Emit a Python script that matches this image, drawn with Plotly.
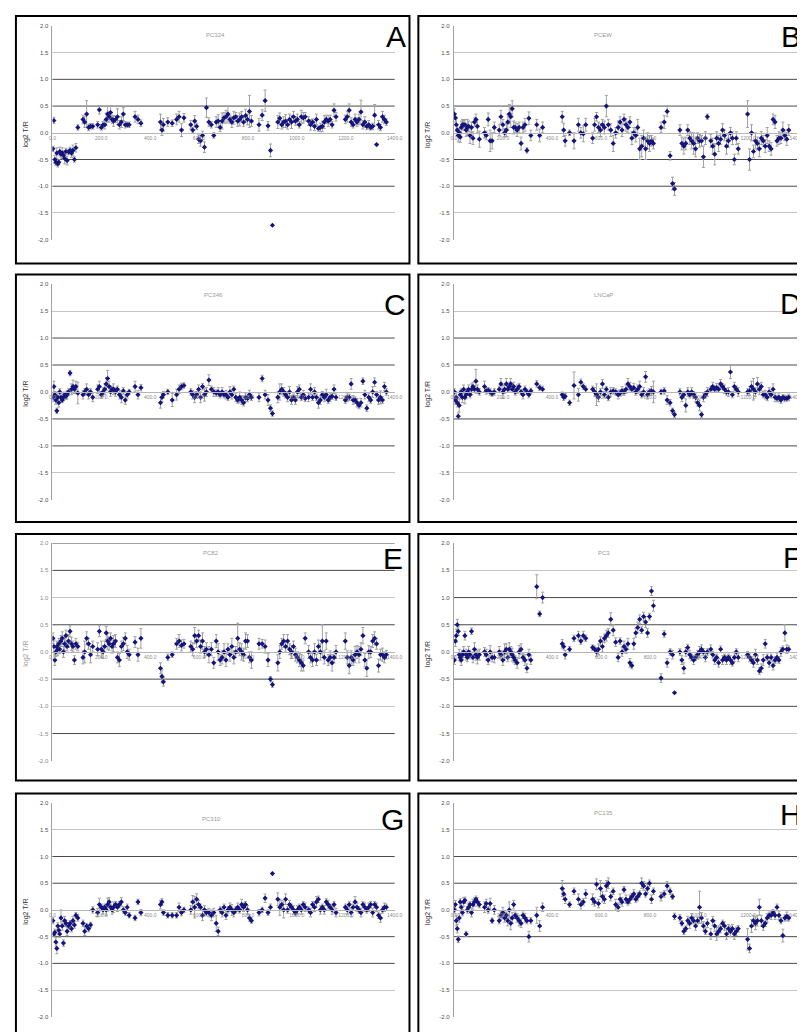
import plotly.graph_objects as go

W, H = 805, 1032

# ---------------- data ----------------
positions = [2, 6, 10, 14, 18, 22, 26, 30, 35, 40, 45, 50, 55, 60, 66, 72, 78, 84, 90, 96,
             104, 125, 132, 140, 148, 156, 165,
             185, 192, 200, 207, 214, 220, 226, 232, 238, 244, 250, 258, 266, 274, 282, 290, 298, 306, 314,
             338, 350, 362,
             442, 448, 454,
             472, 490,
             508, 518, 528, 538,
             566, 574, 582, 590, 598, 606, 614, 622, 630, 640, 650, 660,
             670, 678, 686, 694, 702, 710, 718, 726, 734, 742, 750, 758, 766, 774, 782, 790, 798, 806, 814,
             845, 858, 870, 882, 892, 900,
             922, 930, 938, 946, 954, 962, 970, 978, 986, 994, 1002, 1010, 1018, 1026, 1034,
             1048, 1056, 1064, 1072, 1080, 1088, 1096, 1104, 1112, 1120, 1128, 1136, 1144, 1152, 1160,
             1198, 1206, 1214, 1222, 1230, 1238, 1246, 1254, 1262, 1270, 1278, 1286, 1294, 1302, 1310,
             1318, 1326, 1334, 1342, 1350, 1358, 1366]

panel_letters = ["A", "B", "C", "D", "E", "F", "G", "H"]
panel_titles = ["PC324", "PCEW", "PC346", "LNCaP", "PC82", "PC3", "PC310", "PC135"]

y_pc324 = [-0.3, 0.23, -0.5, -0.55, -0.38, -0.58, -0.55, -0.35, -0.4, -0.38, -0.42, -0.48, -0.35, -0.52, -0.36, -0.33, -0.38, -0.33, -0.5, -0.28,
           0.1, 0.25, 0.2, 0.35, 0.1, 0.12, 0.12,
           0.15, 0.43, 0.1, 0.15, 0.15, 0.25, 0.35, 0.3, 0.38, 0.25, 0.22, 0.25, 0.3, 0.15, 0.2, 0.35, 0.15, 0.15, 0.15,
           0.3, 0.25, 0.18,
           0.2, 0.05, 0.15,
           0.2, 0.18,
           0.25, 0.3, 0.05, 0.28,
           0.15, 0.05, 0.22, 0.12, -0.12, -0.15, -0.05, -0.27, 0.47, 0.2, 0.15, -0.05,
           0.2, 0.22, 0.1, 0.22, 0.28, 0.3, 0.35, 0.25, 0.2, 0.28, 0.3, 0.22, 0.25, 0.3, 0.2, 0.32, 0.25, 0.4, 0.22,
           0.15, 0.33, 0.6, 0.13, -0.33, -1.73,
           0.2, 0.27, 0.15, 0.2, 0.22, 0.15, 0.25, 0.2, 0.3, 0.22, 0.25, 0.15, 0.3, 0.28, 0.3,
           0.22, 0.15, 0.2, 0.12, 0.25, 0.08, 0.1, 0.12, 0.2, 0.25, 0.22, 0.25, 0.15, 0.42, 0.3,
           0.25, 0.3, 0.42, 0.2, 0.15, 0.25, 0.2, 0.25, 0.39, 0.15, 0.2, 0.12, 0.15, 0.1, 0.12, 0.33, -0.22, 0.15, 0.1, 0.3, 0.25, 0.2]
e_pc324 = [0.05, 0.06, 0.08, 0.06, 0.1, 0.06, 0.05, 0.08, 0.06, 0.1, 0.08, 0.1, 0.06, 0.08, 0.05, 0.06, 0.08, 0.1, 0.05, 0.08,
           0.05, 0.08, 0.1, 0.25, 0.06, 0.05, 0.05,
           0.06, 0.08, 0.05, 0.06, 0.08, 0.12, 0.15, 0.1, 0.12, 0.08, 0.1, 0.06, 0.15, 0.08, 0.1, 0.12, 0.06, 0.05, 0.05,
           0.1, 0.08, 0.06,
           0.15, 0.1, 0.12,
           0.08, 0.06,
           0.1, 0.1, 0.12, 0.08,
           0.08, 0.05, 0.1, 0.06, 0.08, 0.1, 0.08, 0.1, 0.18, 0.08, 0.06, 0.05,
           0.1, 0.12, 0.08, 0.15, 0.1, 0.12, 0.15, 0.08, 0.1, 0.12, 0.08, 0.1, 0.12, 0.1, 0.08, 0.12, 0.1, 0.3, 0.1,
           0.12, 0.1, 0.2, 0.08, 0.12, 0.0,
           0.12, 0.1, 0.08, 0.1, 0.12, 0.08, 0.1, 0.12, 0.1, 0.08, 0.1, 0.06, 0.12, 0.1, 0.08,
           0.08, 0.1, 0.06, 0.08, 0.1, 0.05, 0.08, 0.1, 0.12, 0.08, 0.1, 0.08, 0.06, 0.12, 0.08,
           0.08, 0.1, 0.12, 0.08, 0.06, 0.1, 0.08, 0.1, 0.22, 0.08, 0.1, 0.06, 0.08, 0.05, 0.06, 0.2, 0.0, 0.08, 0.06, 0.1, 0.08, 0.06]

y_pcew = [0.35, 0.28, 0.15, 0.05, -0.05, 0.0, -0.08, 0.1, 0.15, 0.15, 0.15, 0.05, 0.1, 0.12, -0.05, 0.1, -0.1, 0.2, 0.25, 0.12,
          -0.12, 0.0, -0.05, 0.25, -0.15, -0.15, 0.1,
          0.05, 0.3, 0.15, 0.0, 0.05, 0.2, 0.35, 0.3, 0.45, 0.1, 0.1, 0.05, 0.1, -0.2, 0.1, 0.15, -0.33, 0.27, -0.05,
          0.15, -0.05, 0.1,
          0.3, 0.05, -0.15,
          0.0, -0.15,
          0.15, 0.0, -0.02, 0.15,
          -0.1, 0.15, 0.3, 0.1, 0.05, 0.15, 0.1, 0.5, 0.15, 0.05, -0.2, 0.0,
          0.1, 0.2, 0.05, 0.25, 0.15, 0.1, 0.2, -0.1, 0.0, -0.05, 0.1, -0.3, -0.25, -0.1, -0.3, -0.15, -0.2, -0.15, -0.2,
          0.1, 0.2, 0.4, -0.43, -0.95, -1.05,
          0.05, -0.2, -0.25, -0.2, 0.05, -0.1, -0.15, -0.2, -0.3, -0.1, -0.15, -0.15, -0.45, -0.1, 0.3,
          -0.15, -0.25, -0.4, -0.1, -0.2, -0.12, 0.05, -0.05, -0.25, -0.15, 0.0, -0.1, -0.5, -0.1, -0.3,
          0.35, -0.5, 0.0, -0.35, -0.15, -0.2, -0.3, -0.1, -0.15, -0.25, -0.05, -0.25, -0.3, 0.25, 0.2, -0.15, -0.1, -0.1, 0.05, -0.05, -0.12, 0.05]
e_pcew = [0.1, 0.08, 0.12, 0.1, 0.12, 0.08, 0.1, 0.12, 0.1, 0.08, 0.1, 0.12, 0.15, 0.1, 0.15, 0.1, 0.12, 0.08, 0.1, 0.12,
          0.15, 0.1, 0.08, 0.12, 0.2, 0.15, 0.1,
          0.1, 0.12, 0.1, 0.08, 0.12, 0.15, 0.18, 0.2, 0.15, 0.12, 0.1, 0.12, 0.1, 0.12, 0.1, 0.12, 0.05, 0.12, 0.1,
          0.1, 0.12, 0.1,
          0.1, 0.12, 0.1,
          0.05, 0.15,
          0.12, 0.1, 0.15, 0.12,
          0.1, 0.12, 0.08, 0.1, 0.12, 0.1, 0.12, 0.2, 0.1, 0.12, 0.15, 0.1,
          0.12, 0.1, 0.12, 0.1, 0.12, 0.1, 0.1, 0.12, 0.1, 0.12, 0.15, 0.2, 0.2, 0.15, 0.2, 0.15, 0.15, 0.1, 0.1,
          0.1, 0.12, 0.1, 0.08, 0.12, 0.12,
          0.1, 0.12, 0.15, 0.12, 0.1, 0.12, 0.15, 0.2, 0.15, 0.1, 0.12, 0.1, 0.2, 0.12, 0.05,
          0.12, 0.15, 0.2, 0.12, 0.15, 0.1, 0.12, 0.1, 0.15, 0.12, 0.1, 0.12, 0.1, 0.12, 0.1,
          0.25, 0.2, 0.15, 0.12, 0.15, 0.12, 0.15, 0.12, 0.1, 0.12, 0.15, 0.1, 0.12, 0.1, 0.12, 0.1, 0.12, 0.1, 0.15, 0.1, 0.12, 0.1]

y_pc346 = [-0.1, 0.1, -0.05, -0.15, -0.35, -0.1, -0.2, 0.0, -0.1, -0.15, -0.1, -0.05, -0.08, -0.05, 0.0, 0.35, 0.05, 0.1, 0.05, 0.1,
           -0.02, -0.05, 0.0, 0.05, -0.05, 0.0, -0.1,
           0.05, 0.1, -0.05, 0.0, 0.05, 0.15, 0.25, 0.1, 0.0, 0.05, 0.05, 0.0, 0.05, -0.05, -0.1, 0.02, -0.15, -0.05, 0.0,
           0.1, -0.05, 0.08,
           -0.2, -0.1, -0.05,
           0.0, -0.15,
           -0.05, 0.05, 0.1, 0.12,
           0.0, -0.05, -0.1, -0.05, 0.05, -0.1, 0.1, -0.05, 0.0, 0.22, 0.05, 0.0,
           -0.02, 0.0, -0.05, 0.0, -0.05, -0.05, -0.1, 0.0, -0.05, 0.05, -0.1, -0.15, -0.1, -0.15, -0.2, -0.1, -0.12, -0.05, -0.1,
           -0.1, 0.25, -0.05, -0.15, -0.3, -0.4,
           -0.1, 0.0, 0.05, 0.0, -0.05, -0.1, 0.0, -0.15, -0.1, -0.15, 0.0, 0.05, -0.1, -0.05, -0.12,
           -0.1, 0.05, -0.1, 0.0, -0.1, -0.2, -0.15, -0.05, -0.1, -0.05, -0.15, -0.1, -0.08, 0.05, -0.1,
           -0.15, -0.1, -0.1, 0.15, -0.15, -0.15, -0.2, -0.25, -0.2, 0.2, -0.05, -0.3, -0.1, -0.15, 0.0, 0.18, -0.05, -0.15, -0.1, -0.15, 0.1, 0.0]
e_pc346 = [0.08, 0.1, 0.06, 0.08, 0.05, 0.1, 0.08, 0.06, 0.08, 0.05, 0.06, 0.05, 0.06, 0.08, 0.06, 0.05, 0.1, 0.12, 0.08, 0.1,
           0.2, 0.08, 0.06, 0.1, 0.08, 0.06, 0.08,
           0.08, 0.1, 0.06, 0.08, 0.1, 0.12, 0.15, 0.1, 0.08, 0.06, 0.1, 0.08, 0.06, 0.08, 0.1, 0.06, 0.08, 0.06, 0.05,
           0.1, 0.08, 0.06,
           0.1, 0.08, 0.06,
           0.05, 0.12,
           0.1, 0.08, 0.06, 0.05,
           0.06, 0.08, 0.1, 0.06, 0.08, 0.1, 0.06, 0.12, 0.08, 0.1, 0.06, 0.08,
           0.06, 0.08, 0.06, 0.08, 0.06, 0.08, 0.06, 0.1, 0.08, 0.06, 0.08, 0.06, 0.1, 0.08, 0.06, 0.08, 0.06, 0.08, 0.06,
           0.08, 0.06, 0.08, 0.1, 0.06, 0.05,
           0.1, 0.15, 0.1, 0.08, 0.06, 0.08, 0.1, 0.08, 0.06, 0.08, 0.1, 0.08, 0.06, 0.08, 0.06,
           0.08, 0.1, 0.06, 0.08, 0.06, 0.1, 0.08, 0.06, 0.08, 0.1, 0.06, 0.08, 0.06, 0.08, 0.06,
           0.06, 0.08, 0.06, 0.1, 0.08, 0.06, 0.08, 0.06, 0.08, 0.06, 0.08, 0.06, 0.08, 0.06, 0.1, 0.08, 0.06, 0.08, 0.12, 0.06, 0.08, 0.06]

y_lncap = [0.0, -0.15, -0.1, -0.2, -0.45, -0.25, -0.05, 0.0, -0.1, 0.05, -0.1, -0.05, 0.0, 0.05, -0.05, 0.05, 0.1, 0.05, 0.2, 0.05,
           0.0, 0.1, 0.02, 0.03, 0.0, -0.03, 0.0,
           0.05, 0.15, 0.0, 0.05, 0.15, 0.05, 0.1, 0.15, 0.05, 0.1, 0.0, 0.05, 0.1, 0.0, -0.05, 0.05, 0.0, -0.05, 0.02,
           0.15, 0.08, 0.05,
           -0.05, -0.1, -0.08,
           -0.2, 0.12,
           -0.05, 0.18, 0.1, 0.05,
           0.05, 0.0, -0.05, -0.1, 0.0, 0.15, -0.05, 0.05, -0.1, 0.0, 0.02, 0.0,
           -0.05, -0.02, 0.02, 0.0, 0.05, 0.15, 0.1, 0.05, 0.08, 0.0, 0.05, 0.1, -0.05, 0.0, 0.28, -0.05, 0.0, 0.02, 0.0,
           0.0, 0.02, -0.15, -0.2, -0.35, -0.42,
           0.0, -0.1, -0.05, -0.25, 0.0, -0.05, 0.0, -0.05, -0.1, -0.2, -0.25, -0.42, -0.1, -0.05, 0.0,
           0.05, 0.1, 0.05, 0.08, 0.05, 0.15, 0.1, 0.05, 0.0, 0.0, 0.37, -0.05, 0.1, 0.05, 0.0,
           0.0, 0.02, 0.1, 0.05, 0.0, 0.15, 0.05, 0.1, -0.05, -0.05, -0.1, 0.0, -0.05, 0.05, -0.1, -0.12, -0.1, -0.15, -0.1, -0.12, -0.12, -0.1]
e_lncap = [0.06, 0.08, 0.1, 0.08, 0.06, 0.12, 0.08, 0.06, 0.1, 0.08, 0.12, 0.08, 0.06, 0.08, 0.06, 0.1, 0.08, 0.06, 0.22, 0.08,
           0.06, 0.1, 0.06, 0.05, 0.06, 0.05, 0.06,
           0.06, 0.1, 0.12, 0.08, 0.1, 0.06, 0.08, 0.1, 0.06, 0.08, 0.06, 0.08, 0.06, 0.05, 0.08, 0.06, 0.05, 0.06, 0.05,
           0.06, 0.05, 0.06,
           0.05, 0.06, 0.05,
           0.05, 0.25,
           0.12, 0.06, 0.05, 0.06,
           0.06, 0.08, 0.2, 0.08, 0.06, 0.08, 0.06, 0.05, 0.06, 0.08, 0.06, 0.06,
           0.08, 0.06, 0.08, 0.06, 0.08, 0.1, 0.08, 0.06, 0.08, 0.06, 0.08, 0.1, 0.06, 0.08, 0.1, 0.08, 0.06, 0.08, 0.2,
           0.05, 0.06, 0.08, 0.06, 0.05, 0.05,
           0.06, 0.08, 0.06, 0.12, 0.08, 0.06, 0.08, 0.06, 0.08, 0.06, 0.1, 0.05, 0.08, 0.06, 0.08,
           0.06, 0.08, 0.06, 0.08, 0.06, 0.08, 0.06, 0.08, 0.06, 0.08, 0.12, 0.06, 0.08, 0.06, 0.08,
           0.06, 0.08, 0.1, 0.2, 0.08, 0.12, 0.1, 0.08, 0.06, 0.08, 0.06, 0.08, 0.06, 0.1, 0.08, 0.06, 0.08, 0.06, 0.05, 0.06, 0.05, 0.06]

y_pc82 = [0.25, 0.1, -0.15, 0.0, 0.1, 0.05, 0.15, 0.05, 0.2, 0.25, 0.0, 0.15, 0.3, 0.1, 0.2, 0.38, 0.15, 0.1, -0.15, 0.15,
          0.1, -0.1, 0.0, 0.25, 0.15, -0.05, 0.1,
          0.05, 0.38, 0.05, 0.0, 0.1, 0.35, 0.2, 0.15, 0.25, 0.1, 0.15, 0.2, -0.1, -0.15, 0.1, 0.15, 0.25, 0.0, -0.05,
          0.18, -0.05, 0.25,
          -0.3, -0.45, -0.55,
          -0.1, -0.05,
          0.15, 0.2, 0.12, 0.15,
          0.1, 0.05, 0.3, 0.2, 0.3, 0.1, 0.2, 0.0, 0.05, -0.05, 0.05, -0.2,
          0.2, 0.0, -0.15, -0.1, 0.0, -0.15, 0.05, -0.05, 0.1, -0.1, 0.0, 0.25, 0.05, 0.0, -0.05, 0.2, 0.2, -0.1, -0.15,
          0.15, 0.15, 0.1, -0.15, -0.5, -0.6,
          -0.2, 0.0, 0.15, 0.2, 0.1, 0.2, 0.05, 0.0, 0.1, -0.05, -0.1, -0.15, -0.2, -0.25, 0.25,
          0.0, -0.1, -0.15, 0.0, -0.15, 0.1, 0.0, 0.2, -0.1, 0.2, -0.15, -0.1, -0.2, -0.1, 0.0,
          0.2, -0.1, -0.25, -0.1, -0.15, -0.05, 0.0, -0.05, 0.05, 0.3, -0.15, -0.3, 0.0, 0.0, 0.2, 0.25, 0.15, -0.25, -0.05, -0.05, -0.1, -0.05]
e_pc82 = [0.1, 0.12, 0.1, 0.08, 0.1, 0.12, 0.1, 0.08, 0.1, 0.12, 0.1, 0.12, 0.1, 0.08, 0.12, 0.1, 0.12, 0.1, 0.08, 0.1,
          0.08, 0.12, 0.2, 0.12, 0.1, 0.15, 0.1,
          0.12, 0.1, 0.15, 0.12, 0.1, 0.12, 0.15, 0.12, 0.1, 0.12, 0.15, 0.12, 0.1, 0.12, 0.1, 0.12, 0.1, 0.12, 0.1,
          0.1, 0.12, 0.18,
          0.1, 0.12, 0.08,
          0.06, 0.05,
          0.1, 0.12, 0.1, 0.08,
          0.1, 0.12, 0.15, 0.12, 0.1, 0.12, 0.15, 0.1, 0.12, 0.15, 0.12, 0.1,
          0.12, 0.15, 0.1, 0.12, 0.15, 0.12, 0.1, 0.12, 0.15, 0.12, 0.1, 0.28, 0.12, 0.15, 0.12, 0.15, 0.12, 0.1, 0.15,
          0.1, 0.08, 0.12, 0.12, 0.05, 0.05,
          0.15, 0.12, 0.1, 0.12, 0.1, 0.12, 0.1, 0.12, 0.1, 0.12, 0.1, 0.12, 0.15, 0.1, 0.1,
          0.12, 0.1, 0.12, 0.15, 0.1, 0.12, 0.15, 0.3, 0.12, 0.15, 0.1, 0.12, 0.15, 0.1, 0.12,
          0.15, 0.12, 0.15, 0.12, 0.1, 0.15, 0.12, 0.15, 0.12, 0.15, 0.12, 0.15, 0.12, 0.1, 0.12, 0.12, 0.1, 0.12, 0.1, 0.12, 0.1, 0.08]

y_pc3 = [-0.15, 0.2, 0.3, 0.5, 0.38, -0.05, -0.1, -0.15, -0.05, 0.0, 0.3, -0.05, -0.1, 0.0, -0.05, 0.38, -0.1, 0.05, -0.05, -0.1,
         -0.05, 0.0, -0.05, -0.15, 0.0, -0.1, -0.1,
         0.0, -0.05, -0.15, 0.0, 0.05, -0.1, 0.05, 0.0, -0.05, -0.1, -0.15, -0.2, 0.0, 0.05, -0.1, -0.15, -0.3, -0.05, -0.15,
         1.2, 0.7, 1.0,
         0.15, 0.1, -0.05,
         0.05, 0.25,
         0.3, 0.2, 0.3, 0.25,
         0.08, 0.05, 0.0, 0.05, 0.2, 0.1, 0.25, 0.3, 0.35, 0.6, 0.4, 0.18,
         -0.1, 0.2, 0.0, 0.1, 0.05, 0.15, -0.2, -0.25, 0.15, 0.35, 0.45, 0.6, 0.4, 0.65, 0.55, 0.35, 0.65, 1.12, 0.85,
         -0.48, 0.33, -0.2, 0.0, -0.05, -0.75,
         0.0, -0.15, -0.3, 0.0, 0.08, -0.05, -0.1, -0.15, -0.1, -0.05, 0.0, 0.05, 0.0, -0.1, 0.0,
         0.05, -0.05, -0.15, -0.1, -0.2, 0.05, -0.15, -0.1, -0.15, -0.1, -0.15, -0.2, -0.1, 0.0, -0.1,
         -0.05, -0.1, -0.15, -0.2, -0.05, -0.15, -0.35, -0.3, -0.15, 0.15, -0.1, -0.2, -0.1, -0.25, -0.15, -0.1, -0.15, 0.0, 0.05, 0.35, 0.05, 0.05]
e_pc3 = [0.08, 0.1, 0.12, 0.1, 0.08, 0.1, 0.08, 0.1, 0.08, 0.1, 0.08, 0.1, 0.08, 0.1, 0.08, 0.06, 0.1, 0.12, 0.1, 0.12,
         0.1, 0.08, 0.1, 0.08, 0.12, 0.08, 0.1,
         0.1, 0.08, 0.1, 0.15, 0.1, 0.08, 0.12, 0.1, 0.12, 0.1, 0.08, 0.1, 0.12, 0.1, 0.08, 0.1, 0.08, 0.1, 0.08,
         0.22, 0.05, 0.1,
         0.08, 0.06, 0.08,
         0.05, 0.06,
         0.08, 0.06, 0.08, 0.06,
         0.05, 0.06, 0.08, 0.1, 0.08, 0.1, 0.08, 0.1, 0.08, 0.12, 0.1, 0.08,
         0.08, 0.06, 0.08, 0.1, 0.08, 0.1, 0.08, 0.06, 0.1, 0.08, 0.1, 0.08, 0.06, 0.08, 0.1, 0.08, 0.06, 0.08, 0.1,
         0.08, 0.06, 0.08, 0.06, 0.08, 0.0,
         0.06, 0.08, 0.1, 0.08, 0.06, 0.08, 0.06, 0.08, 0.06, 0.08, 0.1, 0.08, 0.06, 0.08, 0.06,
         0.08, 0.06, 0.08, 0.06, 0.08, 0.06, 0.08, 0.06, 0.08, 0.06, 0.08, 0.06, 0.08, 0.06, 0.08,
         0.06, 0.08, 0.06, 0.08, 0.1, 0.08, 0.06, 0.08, 0.1, 0.08, 0.06, 0.08, 0.06, 0.08, 0.06, 0.08, 0.06, 0.08, 0.06, 0.15, 0.08, 0.06]

y_pc310 = [-0.2, -0.45, -0.42, -0.6, -0.72, -0.3, -0.38, -0.45, -0.15, -0.3, -0.62, -0.2, -0.25, -0.4, -0.3, -0.25, -0.35, -0.2, -0.28, -0.1,
           -0.15, -0.25, -0.4, -0.3, -0.35, -0.28, 0.0,
           -0.05, 0.1, 0.05, 0.0, 0.05, 0.0, 0.1, 0.15, 0.05, 0.0, 0.05, 0.1, 0.05, 0.1, 0.15, 0.0, -0.05, 0.05, -0.1,
           -0.15, 0.15, -0.05,
           0.1, 0.15, -0.05,
           -0.1, -0.1,
           -0.1, 0.05, -0.05, 0.0,
           0.0, 0.15, 0.05, 0.2, 0.1, 0.05, -0.1, 0.0, -0.05, -0.05, -0.1, -0.05,
           -0.25, -0.4, 0.0, -0.05, 0.05, -0.1, 0.0, 0.05, 0.0, -0.05, 0.0, 0.05, 0.0, 0.1, 0.05, 0.1, 0.0, -0.15, -0.2,
           -0.05, 0.0, 0.22, -0.05, 0.05, 0.68,
           0.2, 0.05, 0.1, 0.0, 0.2, 0.0, 0.1, 0.05, 0.0, -0.05, 0.0, 0.05, 0.0, 0.1, 0.05,
           0.0, -0.05, 0.1, 0.05, 0.15, 0.2, 0.0, 0.05, 0.0, 0.15, 0.1, 0.05, 0.0, 0.1, -0.05,
           0.05, 0.0, 0.1, -0.05, 0.05, 0.15, 0.05, 0.0, -0.05, 0.1, 0.05, 0.0, 0.05, 0.1, -0.05, 0.1, 0.05, -0.1, -0.15, 0.0, 0.05, 0.05]
e_pc310 = [0.06, 0.05, 0.06, 0.08, 0.1, 0.06, 0.08, 0.06, 0.15, 0.08, 0.06, 0.08, 0.06, 0.08, 0.06, 0.05, 0.06, 0.08, 0.06, 0.05,
           0.06, 0.06, 0.08, 0.05, 0.06, 0.05, 0.06,
           0.08, 0.12, 0.06, 0.08, 0.06, 0.1, 0.12, 0.08, 0.06, 0.08, 0.1, 0.06, 0.08, 0.06, 0.08, 0.06, 0.05, 0.06, 0.05,
           0.05, 0.05, 0.06,
           0.08, 0.06, 0.05,
           0.05, 0.05,
           0.05, 0.08, 0.06, 0.05,
           0.08, 0.12, 0.2, 0.1, 0.08, 0.06, 0.1, 0.08, 0.06, 0.08, 0.1, 0.08,
           0.15, 0.08, 0.06, 0.08, 0.06, 0.08, 0.06, 0.08, 0.1, 0.08, 0.06, 0.08, 0.06, 0.1, 0.08, 0.06, 0.08, 0.06, 0.05,
           0.06, 0.05, 0.08, 0.05, 0.06, 0.0,
           0.12, 0.15, 0.08, 0.15, 0.1, 0.06, 0.08, 0.06, 0.08, 0.06, 0.08, 0.06, 0.08, 0.06, 0.08,
           0.06, 0.08, 0.06, 0.08, 0.1, 0.06, 0.08, 0.06, 0.08, 0.06, 0.08, 0.06, 0.08, 0.06, 0.08,
           0.06, 0.08, 0.06, 0.08, 0.06, 0.1, 0.08, 0.06, 0.08, 0.06, 0.08, 0.06, 0.08, 0.06, 0.08, 0.06, 0.08, 0.06, 0.08, 0.06, 0.08, 0.06]

y_pc135 = [0.0, 0.1, -0.2, -0.35, -0.55, -0.15, 0.15, 0.05, -0.05, 0.15, 0.18, -0.45, 0.0, 0.05, 0.1, -0.05, 0.1, 0.15, 0.2, 0.15,
           0.1, 0.05, 0.12, 0.0, 0.12, -0.2, 0.0,
           -0.2, -0.1, -0.05, -0.15, -0.1, -0.2, 0.0, -0.25, -0.15, 0.1, -0.1, -0.15, -0.2, -0.25, -0.1, -0.15, -0.2, -0.5, -0.2,
           -0.1, -0.3, 0.05,
           0.4, 0.3, 0.2,
           0.1, 0.35,
           0.2, 0.1, 0.15, 0.3,
           0.2, 0.15, 0.48, 0.12, 0.4, 0.25, 0.2, 0.45, 0.5, 0.25, 0.35, 0.1,
           0.05, 0.2, 0.15, 0.38, 0.2, 0.15, 0.2, 0.25, 0.3, 0.2, 0.25, 0.3, 0.5, 0.45, 0.3, 0.4, 0.5, 0.2, 0.35,
           0.25, 0.3, 0.45, 0.35, 0.25, -0.12,
           -0.15, -0.25, -0.4, -0.35, -0.2, -0.25, -0.15, -0.2, -0.3, -0.2, 0.05, -0.15, -0.3, -0.4, -0.25,
           -0.45, -0.2, -0.3, -0.45, -0.4, -0.35, -0.25, -0.3, -0.45, -0.35, -0.4, -0.35, -0.45, -0.4, -0.35,
           -0.55, -0.72, -0.3, -0.2, -0.25, -0.2, 0.05, -0.2, -0.3, -0.25, -0.15, -0.1, -0.1, -0.05, -0.1, 0.05, -0.1, -0.2, -0.48, -0.15, -0.12, -0.15]
e_pc135 = [0.06, 0.08, 0.1, 0.08, 0.06, 0.08, 0.06, 0.08, 0.06, 0.08, 0.06, 0.05, 0.06, 0.08, 0.06, 0.08, 0.1, 0.08, 0.06, 0.08,
           0.06, 0.1, 0.08, 0.06, 0.1, 0.05, 0.08,
           0.06, 0.08, 0.1, 0.08, 0.06, 0.1, 0.15, 0.12, 0.1, 0.08, 0.06, 0.08, 0.1, 0.08, 0.06, 0.08, 0.06, 0.1, 0.06,
           0.15, 0.1, 0.08,
           0.15, 0.1, 0.08,
           0.05, 0.06,
           0.1, 0.08, 0.06, 0.08,
           0.1, 0.08, 0.1, 0.08, 0.15, 0.1, 0.08, 0.1, 0.1, 0.08, 0.06, 0.1,
           0.08, 0.1, 0.08, 0.06, 0.08, 0.06, 0.08, 0.06, 0.08, 0.06, 0.08, 0.06, 0.1, 0.08, 0.06, 0.08, 0.06, 0.08, 0.06,
           0.08, 0.06, 0.08, 0.06, 0.05, 0.06,
           0.06, 0.05, 0.06, 0.05, 0.08, 0.1, 0.08, 0.06, 0.08, 0.06, 0.3, 0.1, 0.08, 0.06, 0.08,
           0.1, 0.08, 0.1, 0.12, 0.1, 0.08, 0.06, 0.08, 0.1, 0.08, 0.1, 0.08, 0.1, 0.08, 0.06,
           0.2, 0.08, 0.12, 0.1, 0.12, 0.1, 0.15, 0.1, 0.08, 0.06, 0.08, 0.06, 0.08, 0.06, 0.08, 0.06, 0.08, 0.06, 0.12, 0.06, 0.08, 0.06]

panel_values = [y_pc324, y_pcew, y_pc346, y_lncap, y_pc82, y_pc3, y_pc310, y_pc135]
panel_errors = [e_pc324, e_pcew, e_pc346, e_lncap, e_pc82, e_pc3, e_pc310, e_pc135]

x_tick_values = [0, 200, 400, 600, 800, 1000, 1200, 1400]
x_tick_labels = ["0.0", "200.0", "400.0", "600.0", "800.0", "1000.0", "1200.0", "1400.0"]
y_tick_values = [-2.0, -1.5, -1.0, -0.5, 0.0, 0.5, 1.0, 1.5, 2.0]
y_tick_labels = ["-2.0", "-1.5", "-1.0", "-0.5", "0.0", "0.5", "1.0", "1.5", "2.0"]

for v, e in zip(panel_values, panel_errors):
    assert len(v) == len(positions) == len(e), (len(v), len(e), len(positions))

# ---------------- layout geometry (pixels) ----------------
def fx(p):
    return p / W

def fy(p):
    return 1 - p / H

plot_cols = [(42, 389), (449, 797)]
plot_rows = [(15, 230), (274.7, 491.7), (535.3, 754.1), (796.7, 1011.7)]
box_cols = [(5, 404), (413, 830)]
box_rows = [(5, 254), (265, 514), (526, 774), (787, 1060)]
letter_pos = [(390, 26), (791, 26), (389, 295), (791, 294), (387, 551), (792, 550), (387, 813), (791, 808)]
title_pos = [(207, 24), (600, 24), (205, 286), (601, 286), (203, 545), (601, 545), (203, 813), (601, 807)]
dark_grids = [[-1.0, -0.5, 0.5, 1.0]] * 4 + [[-1.5, -0.5, 0.5, 1.5, 2.0]] + [[-1.0, -0.5, 0.5, 1.0]] * 3

FONT = "Liberation Sans, Arial, sans-serif"
fig = go.Figure()
layout = dict(
    width=W, height=H, margin=dict(l=0, r=0, t=0, b=0),
    paper_bgcolor="white", plot_bgcolor="rgba(0,0,0,0)",
    showlegend=False, font=dict(family=FONT),
)
shapes = []
annotations = []

for i in range(8):
    r, c = divmod(i, 2)
    n = i + 1
    xa = "xaxis" if n == 1 else f"xaxis{n}"
    ya = "yaxis" if n == 1 else f"yaxis{n}"
    xr = "x" if n == 1 else f"x{n}"
    yr = "y" if n == 1 else f"y{n}"
    x0, x1 = plot_cols[c]
    top, bot = plot_rows[r]
    zero_px = (top + bot) / 2

    fig.add_trace(go.Scatter(
        x=positions, y=panel_values[i], xaxis=xr, yaxis=yr, mode="markers",
        marker=dict(symbol="diamond", size=4, color="#14147c"),
        error_y=dict(type="data", array=panel_errors[i], visible=True,
                     color="#a0a0a0", thickness=1, width=1.5),
        hoverinfo="skip",
    ))

    layout[xa] = dict(
        domain=[fx(x0), fx(x1)], range=[0, 1400], anchor="free", position=fy(zero_px),
        tickmode="array", tickvals=x_tick_values, ticktext=x_tick_labels,
        tickfont=dict(size=5, color="#8c8c8c", family=FONT), ticks="",
        showgrid=False, zeroline=False, showline=True, linecolor="#b4b4b4", linewidth=1,
        fixedrange=True,
    )
    light_vals = [v for v in y_tick_values if v not in dark_grids[i] and v != 0.0]
    layout[ya] = dict(
        domain=[fy(bot), fy(top)], range=[-2, 2], anchor=xr,
        tickmode="array", tickvals=y_tick_values, ticktext=y_tick_labels,
        tickfont=dict(size=6, color="#505050" if i != 4 else "#8a8a8a", family=FONT), ticks="",
        ticklabelstandoff=2,
        showgrid=False, zeroline=False, showline=True, linecolor="#a0a0a0", linewidth=1,
        minor=dict(tickmode="array", tickvals=light_vals, showgrid=True,
                   gridcolor="#c4c4c4", gridwidth=1, ticks=""),
        fixedrange=True,
    )
    for v in dark_grids[i]:
        shapes.append(dict(type="line", xref=f"{xr} domain", yref=yr, x0=0, x1=1, y0=v, y1=v,
                           line=dict(color="#4a4a4a", width=1), layer="below"))

    bx0, bx1 = box_cols[c]
    by0, by1 = box_rows[r]
    shapes.append(dict(type="rect", xref="paper", yref="paper",
                       x0=fx(bx0), x1=fx(bx1), y0=fy(by1), y1=fy(by0),
                       line=dict(color="black", width=2), layer="above"))

    lx, ly = letter_pos[i]
    annotations.append(dict(text=panel_letters[i], xref="paper", yref="paper",
                            x=fx(lx), y=fy(ly), xanchor="center", yanchor="middle",
                            showarrow=False, font=dict(size=30, color="black", family=FONT)))
    tx, ty = title_pos[i]
    annotations.append(dict(text=panel_titles[i], xref="paper", yref="paper",
                            x=fx(tx), y=fy(ty), xanchor="center", yanchor="middle",
                            showarrow=False, font=dict(size=6, color="#9a9a9a", family=FONT)))
    annotations.append(dict(text="log2 T/R", xref="paper", yref="paper",
                            x=fx(box_cols[c][0] + 10), y=fy(zero_px + 2), xanchor="center", yanchor="middle",
                            textangle=-90, showarrow=False,
                            font=dict(size=7, color="#303030" if i != 4 else "#9a9a9a", family=FONT)))

layout["shapes"] = shapes
layout["annotations"] = annotations
fig.update_layout(**layout)
fig.write_html("out.html")
